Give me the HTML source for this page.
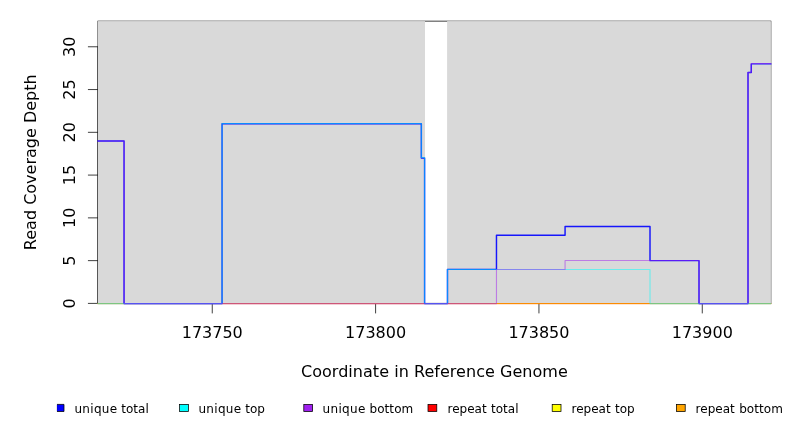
<!DOCTYPE html>
<html lang="en">
<head>
<meta charset="utf-8">
<title>Read Coverage Depth</title>
<style>
html,body{margin:0;padding:0;background:#fff;}
body{width:792px;height:432px;overflow:hidden;position:relative;}
</style>
</head>
<body>
<svg width="792" height="432" viewBox="0 0 792 432" style="will-change:transform;display:block;position:absolute;left:0;top:0">
<rect x="0" y="0" width="792" height="432" fill="#ffffff"/>
<rect x="97.92" y="21.12" width="672.96" height="282.28" fill="none" stroke="#000" stroke-width="0.75"/>
<g stroke="#000" stroke-width="0.75" fill="none" stroke-linecap="round">
<path d="M97.92 46.78 V303.40"/>
<path d="M97.92 303.40 H88.32"/>
<path d="M97.92 260.63 H88.32"/>
<path d="M97.92 217.86 H88.32"/>
<path d="M97.92 175.09 H88.32"/>
<path d="M97.92 132.32 H88.32"/>
<path d="M97.92 89.55 H88.32"/>
<path d="M97.92 46.78 H88.32"/>
<path d="M212.26 303.40 H702.28"/>
<path d="M212.26 303.40 V313.00"/>
<path d="M375.60 303.40 V313.00"/>
<path d="M538.94 303.40 V313.00"/>
<path d="M702.28 303.40 V313.00"/>
</g>
<rect x="97.92" y="21.12" width="327.08" height="282.28" fill="#d9d9d9"/>
<rect x="447.10" y="21.12" width="323.78" height="282.28" fill="#d9d9d9"/>
<g fill="none" stroke-linejoin="round" stroke-linecap="round">
<polyline points="97.92,303.60 770.88,303.60" stroke="#ff0000" stroke-width="1"/>
<polyline points="97.92,303.60 770.88,303.60" stroke="#ffff00" stroke-opacity="0.5" stroke-width="1"/>
<polyline points="97.92,303.60 770.88,303.60" stroke="#ffa500" stroke-opacity="0.5" stroke-width="1"/>
<polyline points="97.92,141.00 124.05,141.00 124.05,303.60 222.06,303.60 222.06,123.77 421.33,123.77 421.33,157.98 424.60,157.98 424.60,303.60 447.47,303.60 447.47,269.35 496.47,269.35 496.47,235.15 565.07,235.15 565.07,226.41 650.01,226.41 650.01,260.63 699.01,260.63 699.01,303.60 748.01,303.60 748.01,72.44 751.28,72.44 751.28,63.89 770.88,63.89" stroke="#0000ff" stroke-opacity="0.9" stroke-width="1.45"/>
<polyline points="97.92,303.60 222.06,303.60 222.06,123.50 421.33,123.50 421.33,157.50 424.60,157.50 424.60,303.60 447.47,303.60 447.47,269.50 650.01,269.50 650.01,303.60 770.88,303.60" stroke="#00ffff" stroke-opacity="0.5" stroke-width="1.1"/>
<polyline points="97.92,141.00 124.05,141.00 124.05,303.60 496.47,303.60 496.47,269.50 565.07,269.50 565.07,260.50 699.01,260.50 699.01,303.60 748.01,303.60 748.01,72.50 751.28,72.50 751.28,63.50 770.88,63.50" stroke="#a020f0" stroke-opacity="0.5" stroke-width="1.1"/>
</g>
<g font-family="'DejaVu Sans', 'Liberation Sans', sans-serif" fill="#000" font-size="16px">
<text transform="translate(75 303.40) rotate(-90)" text-anchor="middle">0</text>
<text transform="translate(75 260.63) rotate(-90)" text-anchor="middle">5</text>
<text transform="translate(75 217.86) rotate(-90)" text-anchor="middle">10</text>
<text transform="translate(75 175.09) rotate(-90)" text-anchor="middle">15</text>
<text transform="translate(75 132.32) rotate(-90)" text-anchor="middle">20</text>
<text transform="translate(75 89.55) rotate(-90)" text-anchor="middle">25</text>
<text transform="translate(75 46.78) rotate(-90)" text-anchor="middle">30</text>
<text x="212.26" y="337.8" text-anchor="middle">173750</text>
<text x="375.60" y="337.8" text-anchor="middle">173800</text>
<text x="538.94" y="337.8" text-anchor="middle">173850</text>
<text x="702.28" y="337.8" text-anchor="middle">173900</text>
<text x="434.40" y="376.7" text-anchor="middle" letter-spacing="0.04">Coordinate in Reference Genome</text>
<text transform="translate(36.2 162.26) rotate(-90)" text-anchor="middle">Read Coverage Depth</text>
</g>
<g font-family="'DejaVu Sans', 'Liberation Sans', sans-serif" fill="#000" font-size="12px">
<rect x="57.0" y="404.4" width="7.0" height="7.1" fill="#0000ff"/>
<path d="M57.0 404.4 H64.0 V411.5 H57.0" fill="none" stroke="#000" stroke-width="0.75"/>
<path d="M57.0 404.4 V411.5" fill="none" stroke="#000" stroke-opacity="0.25" stroke-width="0.75"/>
<text x="74.40" y="412.6" style="white-space:pre"><tspan letter-spacing="0.32">unique</tspan> total</text>
<rect x="179.60" y="404.4" width="8.80" height="7.1" fill="#00ffff" stroke="#000" stroke-width="0.75"/>
<text x="198.40" y="412.6" style="white-space:pre"><tspan letter-spacing="0.32">unique</tspan> top</text>
<rect x="303.80" y="404.4" width="8.80" height="7.1" fill="#a020f0" stroke="#000" stroke-width="0.75"/>
<text x="322.60" y="412.6" style="white-space:pre"><tspan letter-spacing="0.32">unique</tspan> <tspan letter-spacing="0.07">bottom</tspan></text>
<rect x="428.00" y="404.4" width="8.80" height="7.1" fill="#ff0000" stroke="#000" stroke-width="0.75"/>
<text x="447.50" y="412.6" style="white-space:pre"><tspan word-spacing="0.6">repeat </tspan>total</text>
<rect x="552.20" y="404.4" width="8.80" height="7.1" fill="#ffff00" stroke="#000" stroke-width="0.75"/>
<text x="571.50" y="412.6" style="white-space:pre"><tspan word-spacing="0.6">repeat </tspan>top</text>
<rect x="676.40" y="404.4" width="8.80" height="7.1" fill="#ffa500" stroke="#000" stroke-width="0.75"/>
<text x="695.60" y="412.6" style="white-space:pre"><tspan word-spacing="0.6">repeat </tspan><tspan letter-spacing="0.07">bottom</tspan></text>
</g>
</svg>
</body>
</html>
